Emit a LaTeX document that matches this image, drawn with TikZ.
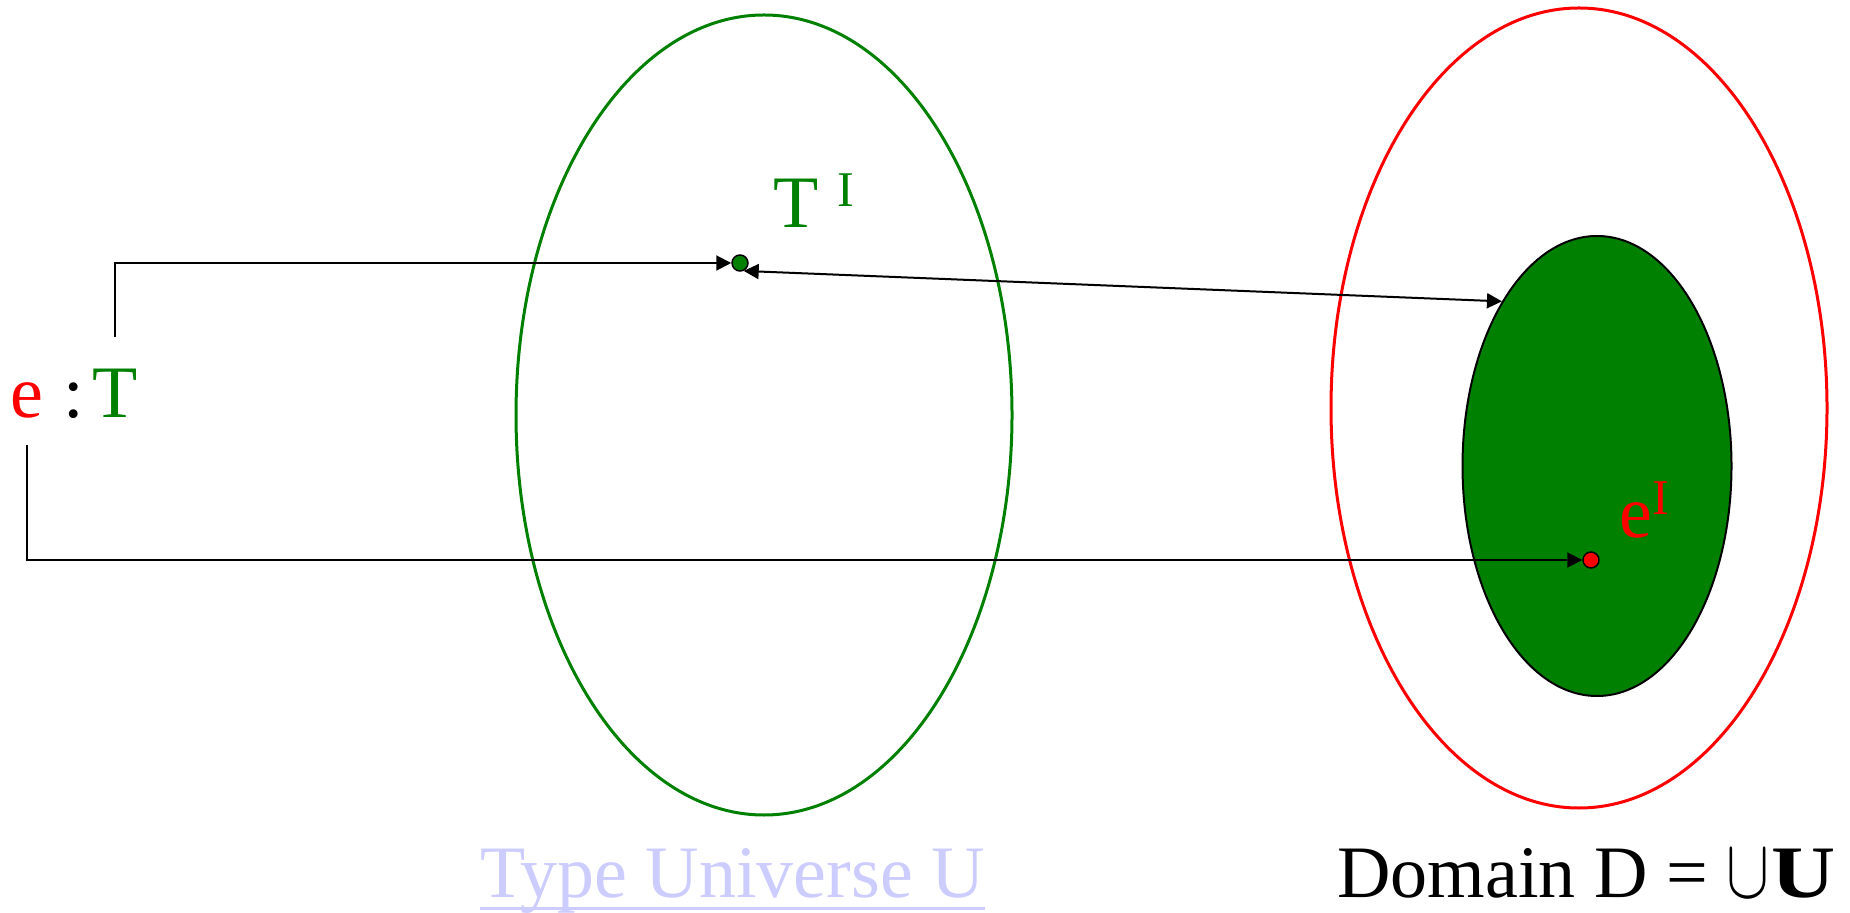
\documentclass[tikz,border=0pt]{standalone}
\usepackage{fontspec}
\setmainfont{Liberation Serif}
\usetikzlibrary{arrows.meta,shapes.geometric}
\definecolor{verde}{HTML}{008000}
\definecolor{rosso}{HTML}{FF0000}
\definecolor{lilla}{HTML}{CCCCFF}

\begin{document}
\begin{tikzpicture}[x=0.5pt, y=-0.5pt,
        >={Triangle[length=7.5pt,width=7.5pt]},
        freccia/.style={line width=1pt, ->},
        punto/.style={circle, draw=black, line width=0.75pt, minimum size=8pt, inner sep=0pt},
        testo/.style={inner sep=0pt, anchor=base, font=\fontsize{37}{40}\selectfont}]
        \useasboundingbox (0,0) rectangle (1850,913);
        % insiemi
        \draw[verde, line width=1.5pt] (764,415) ellipse [x radius=248, y radius=400];
        \draw[rosso, line width=1.5pt] (1579,408) ellipse [x radius=248, y radius=400];
        \node[ellipse, draw=black, line width=1pt, fill=verde, minimum width=134.5pt,
              minimum height=230pt, inner sep=0pt] (insT) at (1597,466) {};
        % punti
        \node[punto, fill=verde] (pT) at (740,263) {};
        \node[punto, fill=rosso] (pe) at (1591,560) {};
        % etichette
        \node[testo, rosso] (e) at (27,418) {e};
        \node[testo] (dp) at (74,418) {:};
        \node[testo, verde] (T) at (115,418) {T};
        \node[testo, verde, anchor=base west] (TI) at (773,228)
            {T\hspace{9.5pt}\raisebox{10.5pt}{\fontsize{25}{25}\selectfont I}};
        \node[testo, rosso, anchor=base west] (eI) at (1619,538)
            {e\raisebox{11.5pt}{\fontsize{25}{25}\selectfont I}};
        \node[testo, lilla, anchor=base west] (U) at (480,897) {Type Universe U};
        \draw[lilla, line width=1.5pt] ([yshift=-5.5pt]U.base west) -- ([yshift=-5.5pt]U.base east);
        \node[testo, anchor=base west] (D) at (1337,897)
            {Domain D = \resizebox{21.5pt}{23.5pt}{$\cup$}\hspace{1pt}\scalebox{1.2}[1]{\textbf{U}}};
        % frecce
        \draw[freccia] ([yshift=16pt]T.north) |- (pT);
        \draw[freccia] ([yshift=-13pt]e.south) |- (pe);
        \draw[freccia, <->] (pT.-65) -- (insT.120);
    \end{tikzpicture}
\end{document}
